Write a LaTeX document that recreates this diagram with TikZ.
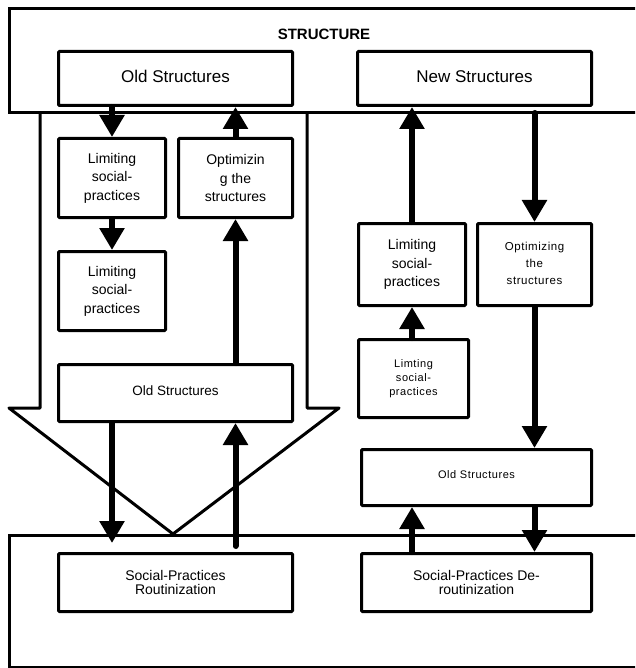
\documentclass[tikz,border=0pt]{standalone}
\usepackage{fontspec}
\setmainfont{Liberation Sans}
\newfontfamily\tracked[LetterSpace=5]{Liberation Sans}
\usetikzlibrary{arrows.meta,calc}

\begin{document}
\begin{tikzpicture}[x=1pt,y=-1pt,
  box/.style={draw, line width=3pt, rounded corners=1pt, fill=white,
    inner sep=0pt, align=center},
  framebox/.style={draw, line width=3pt, inner sep=0pt, outer sep=0pt,
    anchor=north west},
  outline/.style={line width=3pt, line join=round},
  flow/.style={line width=6pt, line cap=round,
    -{Triangle[width=24pt,length=22pt]}},
  txthead/.style={font=\fontsize{15pt}{18pt}\selectfont\bfseries},
  txtbig/.style={font=\fontsize{17pt}{20pt}\selectfont},
  txtmid/.style={font=\fontsize{14pt}{18.5pt}\selectfont},
  txtline/.style={font=\fontsize{13.5pt}{16pt}\selectfont},
  txtpair/.style={font=\fontsize{14pt}{14.5pt}\selectfont},
  txtsmall/.style={font=\fontsize{11.5pt}{17pt}\selectfont\tracked},
  txttiny/.style={font=\fontsize{11pt}{14pt}\selectfont\tracked},
]
\useasboundingbox (0,0) rectangle (635,668);
\clip (0,0) rectangle (635,668);

% outer frames
\node[framebox, minimum width=640pt, minimum height=104pt] (top) at (9,9) {};
\node[framebox, minimum width=640pt, minimum height=132pt] (bottom) at (9,535) {};
\node[txthead] (title) at (324,34) {STRUCTURE};

% large hollow arrow joining the two frames
\draw[outline] (40,113) -- (40,408) -- (9,408) -- (173,534)
  -- (339,408) -- (307,408) -- (307,113);

% boxes
\node[box, txtbig, minimum width=234pt, minimum height=54pt] (oldTop) at (175.5,78.5) {\raisebox{4pt}{Old Structures}};
\node[box, txtbig, minimum width=234pt, minimum height=54pt] (newTop) at (474.5,78.5) {\raisebox{4pt}{New Structures}};

\node[box, txtmid, minimum width=107pt, minimum height=79pt] (lim1) at (112,178) {Limiting\\social-\\practices};
\node[box, txtmid, minimum width=114pt, minimum height=79pt] (optL) at (235.5,178) {Optimizin\\g the\\structures};
\node[box, txtmid, minimum width=107pt, minimum height=79pt] (lim2) at (112,291) {Limiting\\social-\\practices};
\node[box, txtline, minimum width=234pt, minimum height=57pt] (oldMid) at (175.5,393) {\raisebox{5pt}{Old Structures}};

\node[box, txtmid, minimum width=107pt, minimum height=82pt] (limR) at (412,264.5) {Limiting\\social-\\practices};
\node[box, txtsmall, minimum width=114pt, minimum height=82pt] (optR) at (534.5,264.5) {\raisebox{3pt}{Optimizing}\\\raisebox{3pt}{the}\\\raisebox{3pt}{structures}};
\node[box, txttiny, minimum width=110pt, minimum height=78pt] (limtR) at (413.5,378.5) {Limting\\social-\\practices};
\node[box, txttiny, minimum width=230pt, minimum height=56pt] (oldR) at (476.5,477.5) {\raisebox{5pt}{Old Structures}};

\node[box, txtpair, minimum width=234pt, minimum height=58pt] (rout) at (175.5,582.5) {Social-Practices\\Routinization};
\node[box, txtpair, minimum width=230pt, minimum height=58pt] (dero) at (476.5,582.5) {Social-Practices De-\\routinization};

% left column connectors
\draw[flow] (lim1.north |- oldTop.south) -- (lim1.north);
\draw[flow] (optL.north) -- (optL.north |- oldTop.south);
\draw[flow] (lim1.south) -- (lim2.north);
\draw[flow] (optL.south |- oldMid.north) -- (optL.south);
\draw[flow] (lim2.south |- oldMid.south) -- ($(lim2.south |- rout.north)+(0,-9)$);
\draw[flow] ($(optL.south |- rout.north)+(0,-6)$) -- (optL.south |- oldMid.south);

% right column connectors
\draw[flow] (limR.north) -- (limR.north |- newTop.south);
\draw[flow] (optR.north |- top.south) -- (optR.north);
\draw[flow] (limR.south |- limtR.north) -- (limR.south);
\draw[flow] (optR.south) -- (optR.south |- oldR.north);
\draw[flow] (limR.south |- dero.north) -- (limR.south |- oldR.south);
\draw[flow] (optR.south |- oldR.south) -- (optR.south |- dero.north);
\end{tikzpicture}
\end{document}
